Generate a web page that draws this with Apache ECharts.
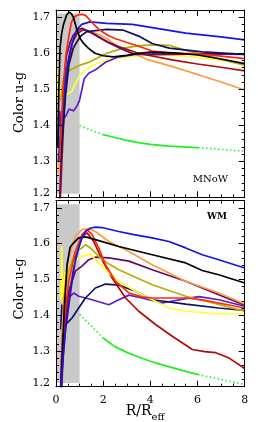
<!DOCTYPE html>
<html><head><meta charset="utf-8">
<script src="https://cdn.jsdelivr.net/npm/echarts@6/dist/echarts.min.js"></script>
<style>html,body{margin:0;padding:0;background:#fff}#c{width:258px;height:422px}</style>
</head><body><div id="c"></div>
<script>
// ---------- tick labels ----------
const xTicks = [0, 2, 4, 6, 8];
const yTicks = [1.2, 1.3, 1.4, 1.5, 1.6, 1.7];
const panelNames = ['MNoW', 'WM'];
const coreBand = [[0, 1.21], [1, 1.71]];

// ---------- top panel (MNoW) ----------
const mnowBlack = [[0.08,1.34],[0.12,1.5],[0.17,1.614],[0.24,1.655],[0.31,1.678],[0.45,1.706],[0.56,1.714],[0.65,1.71],[0.73,1.701],[0.87,1.669],[1.02,1.641],[1.2,1.625],[1.37,1.614],[1.65,1.6],[2.0,1.593],[2.43,1.59],[3.0,1.594],[3.5,1.6],[4.0,1.603],[5,1.601],[6,1.595],[7,1.584],[8,1.571]];
const mnowRed = [[0.15,1.3],[0.3,1.5],[0.42,1.595],[0.55,1.65],[0.66,1.687],[0.8,1.702],[0.95,1.707],[1.1,1.708],[1.25,1.705],[1.44,1.692],[1.65,1.677],[1.86,1.664],[2.2,1.65],[2.5,1.641],[3.14,1.627],[3.56,1.618],[4.08,1.606],[5,1.6],[6,1.598],[7,1.592],[8,1.585]];
const mnowBlue = [[0.1,1.3],[0.25,1.42],[0.4,1.53],[0.55,1.59],[0.66,1.623],[0.87,1.664],[1.09,1.68],[1.44,1.687],[2.15,1.683],[3.23,1.68],[4.08,1.671],[5.5,1.656],[6.9,1.646],[8,1.637]];
const mnowNavy = [[0.2,1.3],[0.4,1.48],[0.55,1.57],[0.73,1.614],[1.02,1.646],[1.3,1.66],[2.15,1.666],[2.86,1.664],[3.56,1.646],[4.08,1.627],[4.8,1.614],[6.2,1.604],[8,1.597]];
const mnowPurple = [[0.15,1.19],[0.22,1.3],[0.3,1.45],[0.38,1.55],[0.45,1.595],[0.6,1.63],[0.73,1.65],[0.9,1.663],[1.1,1.669],[1.3,1.664],[1.58,1.655],[2.15,1.632],[2.71,1.614],[3.28,1.598],[4,1.596],[5,1.597],[6,1.598],[7,1.598],[8,1.598]];
const mnowDarkRed = [[0.18,1.19],[0.25,1.3],[0.35,1.45],[0.5,1.57],[0.7,1.63],[0.9,1.655],[1.15,1.665],[1.4,1.66],[1.8,1.645],[2.3,1.628],[2.85,1.614],[3.4,1.602],[3.85,1.595],[4.98,1.581],[6,1.57],[7,1.561],[8,1.551]];
const mnowOrange = [[0.12,1.27],[0.2,1.36],[0.3,1.46],[0.42,1.53],[0.59,1.576],[0.8,1.623],[1.09,1.65],[1.3,1.66],[1.72,1.655],[2.15,1.641],[2.71,1.614],[3.28,1.6],[3.85,1.583],[4.98,1.562],[6.1,1.539],[7,1.52],[8,1.498]];
const mnowOlive = [[0.2,1.47],[0.31,1.53],[0.59,1.553],[1.02,1.567],[1.44,1.576],[2.15,1.6],[2.86,1.614],[3.56,1.621],[4.2,1.623],[4.8,1.622],[5.4,1.61],[6.1,1.598],[7,1.583],[8,1.567]];
const mnowYellow = [[0.08,1.475],[0.1,1.558],[0.13,1.52],[0.17,1.489],[0.31,1.479],[0.45,1.486],[0.66,1.493],[0.8,1.512],[1.02,1.54],[1.44,1.563],[2.15,1.581],[2.86,1.589],[3.56,1.593],[4.5,1.595],[5.5,1.592],[6.5,1.585],[7.3,1.577],[8,1.568]];
const mnowViolet = [[0.1,1.36],[0.15,1.44],[0.2,1.4],[0.25,1.44],[0.35,1.42],[0.45,1.43],[0.55,1.445],[0.75,1.44],[0.9,1.455],[1.0,1.47],[1.1,1.5],[1.2,1.53],[1.4,1.545],[1.7,1.555],[2.1,1.575],[2.66,1.59],[3.37,1.597],[4.8,1.598],[6.2,1.598],[8,1.597]];
const mnowGreenIn = [[1.0,1.399],[1.5,1.386],[2.0,1.374]];
const mnowGreen = [[2.0,1.374],[2.5,1.366],[3,1.358],[3.5,1.352],[4,1.347],[4.8,1.342],[5.4,1.34],[6.02,1.338]];
const mnowGreenOut = [[6.02,1.338],[7,1.333],[8,1.328]];

// ---------- bottom panel (WM) ----------
const wmBlue = [[0.2,1.2],[0.3,1.28],[0.4,1.355],[0.55,1.43],[0.68,1.495],[0.8,1.545],[0.96,1.588],[1.1,1.615],[1.25,1.634],[1.45,1.643],[1.67,1.646],[1.95,1.645],[2.66,1.634],[3.3,1.625],[4.08,1.616],[4.79,1.606],[5.5,1.588],[6.2,1.569],[6.9,1.555],[8,1.532]];
const wmBlack = [[0.2,1.2],[0.25,1.262],[0.35,1.42],[0.47,1.541],[0.6,1.59],[0.68,1.597],[0.96,1.616],[1.25,1.619],[1.67,1.611],[2.66,1.592],[4.08,1.569],[5.5,1.546],[6.2,1.525],[6.9,1.513],[8,1.49]];
const wmOrange = [[0.25,1.35],[0.4,1.495],[0.5,1.55],[0.61,1.578],[0.82,1.62],[1.1,1.639],[1.39,1.642],[1.67,1.634],[2.24,1.606],[3.09,1.578],[4.08,1.541],[5.5,1.495],[6.9,1.462],[8,1.431]];
const wmRed = [[0.2,1.2],[0.25,1.308],[0.4,1.42],[0.54,1.495],[0.82,1.578],[1.1,1.625],[1.32,1.639],[1.53,1.625],[1.81,1.588],[2.1,1.541],[2.52,1.495],[3.09,1.462],[3.65,1.451],[4.08,1.448],[5.5,1.448],[6.2,1.443],[6.9,1.434],[8,1.42]];
const wmDarkRed = [[0.2,1.19],[0.3,1.28],[0.4,1.37],[0.54,1.448],[0.82,1.56],[1.1,1.62],[1.32,1.63],[1.6,1.606],[1.95,1.555],[2.38,1.504],[2.95,1.448],[3.51,1.411],[4.22,1.374],[4.93,1.341],[5.78,1.304],[6.3,1.298],[6.77,1.295],[7.34,1.28],[8,1.251]];
const wmOlive = [[0.25,1.3],[0.33,1.448],[0.54,1.523],[0.82,1.578],[1.1,1.588],[1.25,1.597],[1.46,1.588],[1.95,1.555],[2.66,1.527],[4.08,1.485],[5.5,1.453],[6.9,1.43],[8,1.411]];
const wmYellow = [[0.2,1.44],[0.24,1.592],[0.27,1.45],[0.3,1.5],[0.33,1.42],[0.37,1.52],[0.45,1.5],[0.73,1.545],[1.02,1.564],[1.3,1.568],[1.44,1.573],[1.67,1.555],[2.1,1.527],[2.66,1.495],[3.37,1.467],[4.08,1.443],[4.79,1.42],[5.5,1.411],[6.9,1.404],[8,1.404]];
const wmPurple = [[0.25,1.2],[0.33,1.355],[0.54,1.467],[0.82,1.523],[1.1,1.537],[1.39,1.555],[1.67,1.562],[2.24,1.56],[3.09,1.551],[4.08,1.527],[5.5,1.495],[6.9,1.457],[8,1.428]];
const wmNavy = [[0.2,1.36],[0.25,1.43],[0.3,1.374],[0.47,1.378],[0.68,1.392],[0.96,1.42],[1.25,1.448],[1.67,1.476],[2.1,1.487],[2.66,1.484],[3.37,1.467],[4.08,1.443],[5.5,1.431],[6.9,1.42],[8,1.413]];
const wmViolet = [[0.2,1.2],[0.25,1.3],[0.3,1.38],[0.4,1.448],[0.61,1.453],[0.75,1.462],[0.96,1.453],[1.53,1.443],[2.24,1.429],[2.66,1.443],[3.09,1.456],[3.65,1.448],[4.5,1.434],[5.5,1.446],[6.06,1.452],[6.9,1.443],[8,1.425]];
const wmGreenIn = [[1.0,1.402],[1.5,1.37],[2.0,1.336]];
const wmGreen = [[2.0,1.336],[2.5,1.312],[3,1.296],[3.5,1.283],[4,1.271],[4.5,1.261],[5,1.252],[5.5,1.243],[6.02,1.234]];
const wmGreenOut = [[6.02,1.234],[7,1.22],[8,1.206]];

// ---------- styles ----------
const COLORS = {
  black:'#000000', red:'#ff2a0a', blue:'#1515e6', navy:'#101062', purple:'#660a66',
  darkred:'#b00a0a', orange:'#ff9a3c', olive:'#b8ad00', yellow:'#ffff33', violet:'#5a1ed2', green:'#22ee22'
};
const FONT = 'DejaVu Serif';

const panels = [
  [['green',mnowGreenIn,'dotted'],['green',mnowGreen,'solid'],['green',mnowGreenOut,'dotted'],
   ['yellow',mnowYellow],['olive',mnowOlive],['orange',mnowOrange],['violet',mnowViolet],
   ['darkred',mnowDarkRed],['purple',mnowPurple],['navy',mnowNavy],['blue',mnowBlue],['red',mnowRed],['black',mnowBlack]],
  [['green',wmGreenIn,'dotted'],['green',wmGreen,'solid'],['green',wmGreenOut,'dotted'],
   ['violet',wmViolet],['navy',wmNavy],['purple',wmPurple],['darkred',wmDarkRed],['yellow',wmYellow],
   ['olive',wmOlive],['red',wmRed],['orange',wmOrange],['black',wmBlack],['blue',wmBlue]]
];

const grids = [
  {left:56, right:13.3, top:10, height:187.3},
  {left:56, right:13.3, top:200.7, height:186}
];

const near = (v, arr) => arr.some(t => Math.abs(t - v) < 1e-6);
const xAxes = [], yAxes = [], series = [];
grids.forEach((g, gi) => {
  const showX = gi === 1;
  const baseX = {gridIndex:gi, type:'value', min:0, max:8, splitLine:{show:false}, z:10};
  xAxes.push(Object.assign({}, baseX, {position:'bottom', interval:2,
    axisLine:{show:true, onZero:false, lineStyle:{color:'#000', width:1}},
    axisTick:{show:true, inside:true, length:6, lineStyle:{color:'#000', width:1}},
    axisLabel:{show:showX, margin:8, fontFamily:FONT, fontSize:11, color:'#000',
      formatter: v => near(v, xTicks) ? String(Math.round(v)) : ''}}));
  xAxes.push(Object.assign({}, baseX, {position:'bottom', interval:0.5,
    axisLine:{show:false, onZero:false}, axisTick:{show:true, inside:true, length:3, lineStyle:{color:'#000', width:1}},
    axisLabel:{show:false}}));
  xAxes.push(Object.assign({}, baseX, {position:'top', interval:2,
    axisLine:{show:true, onZero:false, lineStyle:{color:'#000', width:1}},
    axisTick:{show:true, inside:true, length:6, lineStyle:{color:'#000', width:1}}, axisLabel:{show:false}}));
  xAxes.push(Object.assign({}, baseX, {position:'top', interval:0.5,
    axisLine:{show:false, onZero:false}, axisTick:{show:true, inside:true, length:3, lineStyle:{color:'#000', width:1}},
    axisLabel:{show:false}}));

  const baseY = {gridIndex:gi, type:'value', min:1.2, max:1.72, splitLine:{show:false}, z:10};
  yAxes.push(Object.assign({}, baseY, {position:'left', interval:0.1,
    axisLine:{show:true, onZero:false, lineStyle:{color:'#000', width:1}},
    axisTick:{show:true, inside:true, length:6, lineStyle:{color:'#000', width:1}},
    axisLabel:{show:true, margin:6, fontFamily:FONT, fontSize:11, color:'#000',
      formatter: v => {
        if (!near(v, yTicks)) return '';
        const s = v.toFixed(1);
        return Math.abs(v - yTicks[0]) < 1e-6 ? '{s|' + s + '}' : s;
      },
      rich:{s:{fontFamily:FONT, fontSize:11, color:'#000', padding:[0,0,8,0]}}}}));
  yAxes.push(Object.assign({}, baseY, {position:'left', interval:0.02,
    axisLine:{show:false, onZero:false}, axisTick:{show:true, inside:true, length:3, lineStyle:{color:'#000', width:1}},
    axisLabel:{show:false}}));
  yAxes.push(Object.assign({}, baseY, {position:'right', interval:0.1,
    axisLine:{show:true, onZero:false, lineStyle:{color:'#000', width:1}},
    axisTick:{show:true, inside:true, length:6, lineStyle:{color:'#000', width:1}}, axisLabel:{show:false}}));
  yAxes.push(Object.assign({}, baseY, {position:'right', interval:0.02,
    axisLine:{show:false, onZero:false}, axisTick:{show:true, inside:true, length:3, lineStyle:{color:'#000', width:1}},
    axisLabel:{show:false}}));

  // grey core band
  series.push({type:'line', xAxisIndex:gi*4, yAxisIndex:gi*4, data:coreBand, symbol:'none', z:1,
    lineStyle:{opacity:0}, silent:true,
    markArea:{silent:true, itemStyle:{color:'#c9c9c9'},
      data:[[{coord:coreBand[0]},{coord:coreBand[1]}]]}});

  panels[gi].forEach(([c, d, t]) => {
    series.push({type:'line', xAxisIndex:gi*4, yAxisIndex:gi*4, data:d, symbol:'none', showSymbol:false,
      clip:true, z:3, silent:true,
      lineStyle:{color:COLORS[c], width: t === 'dotted' ? 1.6 : 1.7, type: t === 'dotted' ? [1.5, 2.5] : 'solid'}});
  });
});

const graphic = [
  {type:'text', x:19.5, y:102.5, rotation:Math.PI/2,
    style:{text:'Color u-g', fontFamily:FONT, fontSize:13, fill:'#000', align:'center', verticalAlign:'middle'}},
  {type:'text', x:19.5, y:289, rotation:Math.PI/2,
    style:{text:'Color u-g', fontFamily:FONT, fontSize:13, fill:'#000', align:'center', verticalAlign:'middle'}},
  {type:'text', x:151.5, y:411.5,
    style:{text:'R/R', fontFamily:FONT, fontSize:14, fill:'#000', align:'right', verticalAlign:'middle'}},
  {type:'text', x:151.5, y:417,
    style:{text:'eff', fontFamily:FONT, fontSize:10, fill:'#000', align:'left', verticalAlign:'middle'}},
  {type:'text', x:228, y:179,
    style:{text:panelNames[0], fontFamily:FONT, fontSize:10, fill:'#000', align:'right', verticalAlign:'middle'}},
  {type:'text', x:227, y:217,
    style:{text:panelNames[1], fontFamily:FONT, fontSize:9, fontWeight:'bold', fill:'#000', align:'right', verticalAlign:'middle'}}
];

const chart = echarts.init(document.getElementById('c'), null, {renderer:'canvas'});
chart.setOption({animation:false, backgroundColor:'#fff', grid:grids, xAxis:xAxes, yAxis:yAxes, series:series, graphic:graphic});
</script></body></html>
